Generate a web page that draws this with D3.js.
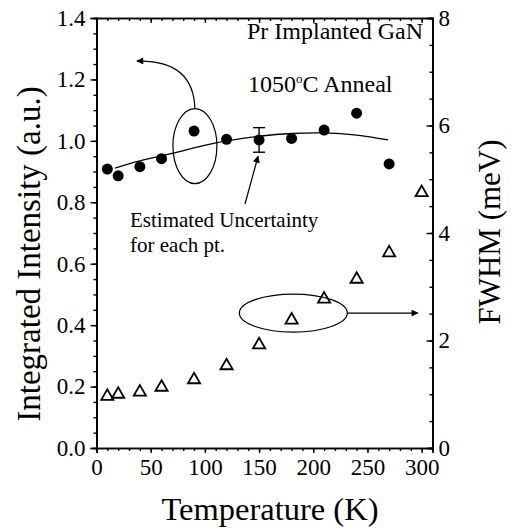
<!DOCTYPE html>
<html>
<head>
    <title>Pr Implanted GaN</title>
    <meta charset="utf-8" />
    <script src="https://cdn.jsdelivr.net/npm/d3@7"></script>
    <style>
        body { margin: 0; background: #fff; }
        svg text { font-family: "Liberation Serif", "Times New Roman", serif; fill: #000; }
    </style>
</head>
<body>
<div id="chart"></div>
<script>

// temperature (K) of each measurement
var temps = [10, 20, 40, 60, 90, 120, 150, 180, 210, 240, 270];
// integrated intensity (a.u.), left axis
var intensity = [0.908, 0.886, 0.916, 0.942, 1.032, 1.005, 1.003, 1.008, 1.035, 1.090, 0.925];
// FWHM (meV), right axis
var fwhmTemps = [10, 20, 40, 60, 90, 120, 150, 180, 210, 240, 270, 300];
var fwhm = [0.96, 1.0, 1.04, 1.13, 1.27, 1.53, 1.92, 2.38, 2.77, 3.14, 3.63, 4.75];
// smooth guide line through the intensity points
var fitT = [17, 40, 71, 108, 150, 180, 210, 240, 269];
var fitI = [0.911, 0.935, 0.960, 0.992, 1.015, 1.024, 1.026, 1.019, 1.003];
// error bar on the 150 K point
var errT = 150, errI = 1.003, errD = 0.04;

var xTicks = [0, 50, 100, 150, 200, 250, 300];
var yTicks = [0.0, 0.2, 0.4, 0.6, 0.8, 1.0, 1.2, 1.4];
var y2Ticks = [0, 2, 4, 6, 8];

var width = 511, height = 529;
var pLeft = 96.5, pRight = 432.5, pTop = 18, pBottom = 448;

var svg = d3.select("#chart").append("svg")
    .attr("width", width)
    .attr("height", height);

var x = d3.scaleLinear().domain([0, 310]).range([pLeft, pRight]);
var y = d3.scaleLinear().domain([0, 1.4]).range([pBottom, pTop]);
var y2 = d3.scaleLinear().domain([0, 8]).range([pBottom, pTop]);

function styleAxis(g) {
    g.selectAll("path").attr("stroke", "#000").attr("stroke-width", 1.7);
    g.selectAll("line").attr("stroke", "#000").attr("stroke-width", 1.4);
    g.selectAll("text").attr("font-size", "23px").attr("fill", "#000");
}

// minor ticks first
svg.append("g").attr("transform", "translate(0," + pBottom + ")")
    .call(d3.axisBottom(x).tickValues(d3.range(0, 311, 10)).tickSize(3).tickFormat(""))
    .call(styleAxis);
svg.append("g").attr("transform", "translate(0," + pTop + ")")
    .call(d3.axisTop(x).tickValues(d3.range(0, 311, 10)).tickSize(-3).tickFormat(""))
    .call(styleAxis);
svg.append("g").attr("transform", "translate(" + pLeft + ",0)")
    .call(d3.axisLeft(y).tickValues(d3.range(0, 1.401, 0.05)).tickSize(3).tickFormat(""))
    .call(styleAxis);
svg.append("g").attr("transform", "translate(" + pRight + ",0)")
    .call(d3.axisRight(y2).tickValues(d3.range(0, 8.01, 0.5)).tickSize(-3).tickFormat(""))
    .call(styleAxis);

// major ticks with labels
svg.append("g").attr("transform", "translate(0," + pBottom + ")")
    .call(d3.axisBottom(x).tickValues(xTicks).tickSize(5).tickPadding(6).tickFormat(d3.format("d")))
    .call(styleAxis);
svg.append("g").attr("transform", "translate(0," + pTop + ")")
    .call(d3.axisTop(x).tickValues(xTicks).tickSize(-5).tickFormat(""))
    .call(styleAxis);
svg.append("g").attr("transform", "translate(" + pLeft + ",0)")
    .call(d3.axisLeft(y).tickValues(yTicks).tickSize(6).tickPadding(5).tickFormat(d3.format(".1f")))
    .call(styleAxis);
svg.append("g").attr("transform", "translate(" + pRight + ",0)")
    .call(d3.axisRight(y2).tickValues(y2Ticks).tickSize(-6).tickPadding(6).tickFormat(d3.format("d")))
    .call(styleAxis);

// axis titles
svg.append("text")
    .attr("x", 270).attr("y", 520)
    .attr("text-anchor", "middle")
    .attr("font-size", "32.5px")
    .text("Temperature (K)");
svg.append("text")
    .attr("transform", "translate(40,254) rotate(-90)")
    .attr("text-anchor", "middle")
    .attr("font-size", "33px")
    .text("Integrated Intensity (a.u.)");
svg.append("text")
    .attr("transform", "translate(500,232) rotate(-90)")
    .attr("text-anchor", "middle")
    .attr("font-size", "31px")
    .text("FWHM (meV)");

// fitted guide line
var line = d3.line()
    .x(function(d, i) { return x(fitT[i]); })
    .y(function(d) { return y(d); })
    .curve(d3.curveNatural);
svg.append("path")
    .datum(fitI)
    .attr("d", line)
    .attr("fill", "none")
    .attr("stroke", "#000")
    .attr("stroke-width", 1.3);

// error bar
var eb = svg.append("g").attr("stroke", "#000").attr("stroke-width", 1.4);
eb.append("line").attr("x1", x(errT)).attr("x2", x(errT)).attr("y1", y(errI + errD)).attr("y2", y(errI - errD));
eb.append("line").attr("x1", x(errT) - 6).attr("x2", x(errT) + 6).attr("y1", y(errI + errD)).attr("y2", y(errI + errD));
eb.append("line").attr("x1", x(errT) - 6).attr("x2", x(errT) + 6).attr("y1", y(errI - errD)).attr("y2", y(errI - errD));

// intensity points
svg.append("g").selectAll("circle")
    .data(intensity)
    .enter()
    .append("circle")
    .attr("cx", function(d, i) { return x(temps[i]); })
    .attr("cy", function(d) { return y(d); })
    .attr("r", 5.5)
    .attr("fill", "#000");

// FWHM points
var tri = d3.symbol().type(d3.symbolTriangle).size(64);
svg.append("g").selectAll("path")
    .data(fwhm)
    .enter()
    .append("path")
    .attr("d", tri)
    .attr("transform", function(d, i) { return "translate(" + x(fwhmTemps[i]) + "," + y2(d) + ")"; })
    .attr("fill", "none")
    .attr("stroke", "#000")
    .attr("stroke-width", 1.8);

// annotations
svg.append("defs").append("marker")
    .attr("id", "head")
    .attr("viewBox", "0 0 10 10")
    .attr("refX", 9).attr("refY", 5)
    .attr("markerWidth", 9).attr("markerHeight", 7)
    .attr("markerUnits", "userSpaceOnUse")
    .attr("orient", "auto")
    .append("path")
    .attr("d", "M0,0 L10,5 L0,10 Z")
    .attr("fill", "#000");

var ann = svg.append("g").attr("fill", "none").attr("stroke", "#000").attr("stroke-width", 1.2);

var lx = x(90.8), ly = y(0.983);
ann.append("ellipse").attr("cx", lx).attr("cy", ly).attr("rx", 22).attr("ry", 37.5);
ann.append("path")
    .attr("d", "M" + lx + "," + (ly - 37.5) + " C" + (lx - 1) + "," + (ly - 70) + " " + (lx - 20) + "," + (ly - 86) + " " + (lx - 58) + "," + (ly - 85))
    .attr("marker-end", "url(#head)");

var ex = x(181.6), ey = y2(2.51);
ann.append("ellipse").attr("cx", ex).attr("cy", ey).attr("rx", 54).attr("ry", 19);
ann.append("line")
    .attr("x1", ex + 54).attr("y1", ey)
    .attr("x2", x(296.5)).attr("y2", ey)
    .attr("marker-end", "url(#head)");

ann.append("line")
    .attr("x1", 245).attr("y1", 204)
    .attr("x2", x(errT) - 1).attr("y2", y(errI - errD) + 4)
    .attr("marker-end", "url(#head)");

svg.append("text").attr("x", 247).attr("y", 39).attr("font-size", "24px").text("Pr Implanted GaN");
var t2 = svg.append("text").attr("x", 248).attr("y", 92).attr("font-size", "24px");
t2.append("tspan").text("1050");
t2.append("tspan").attr("dy", -9).attr("font-size", "13px").text("o");
t2.append("tspan").attr("dy", 9).text("C Anneal");

svg.append("text").attr("x", 130).attr("y", 227).attr("font-size", "21px").text("Estimated Uncertainty");
svg.append("text").attr("x", 130).attr("y", 252).attr("font-size", "21px").text("for each pt.");

</script>
</body>
</html>
